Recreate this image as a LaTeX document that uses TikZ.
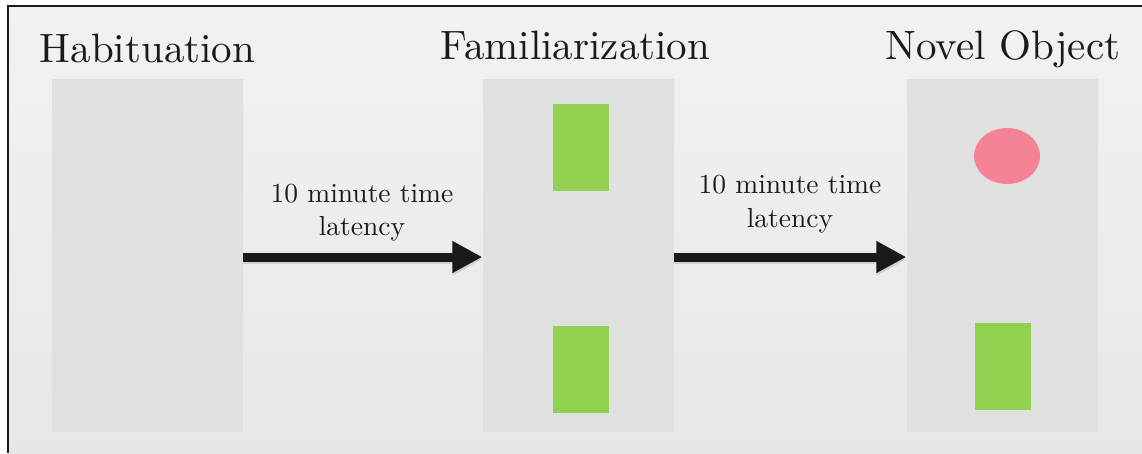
\documentclass[tikz,border=0pt]{standalone}
\usepackage{fontspec}
\newfontfamily\textface{lmroman10-regular.otf}
\usetikzlibrary{arrows.meta, shapes.geometric}
\definecolor{panelgray}{HTML}{E0E0E0}
\definecolor{bgtop}{HTML}{F1F2F4}
\definecolor{bgbottom}{HTML}{E6E7E8}
\definecolor{objgreen}{HTML}{92D050}
\definecolor{objpink}{HTML}{F48396}
\definecolor{ink}{HTML}{1A1A1A}
\tikzset{
  arena/.style={fill=panelgray, draw=none, minimum width=191pt, minimum height=353pt, inner sep=0pt},
  block/.style={fill=objgreen, draw=none, minimum width=56pt, minimum height=87pt, inner sep=0pt},
  ball/.style={ellipse, fill=objpink, draw=none, minimum width=66pt, minimum height=56pt, inner sep=0pt},
  heading/.style={font=\textface\fontsize{41}{48}\selectfont, text=ink, anchor=base, inner sep=0pt},
  delay/.style={font=\textface\fontsize{27.5}{32}\selectfont, text=ink, align=center, inner sep=0pt, anchor=base},
  bigarrow/.style={line width=9pt, draw=ink, -{Triangle[length=30pt 0 0, width=30pt 0 0]}},
  arrowshade/.style={line width=9pt, draw=black!50, opacity=0.25, -{Triangle[length=30pt 0 0, width=30pt 0 0]}}
}
\begin{document}
\begin{tikzpicture}[x=1pt, y=-1pt]
  \useasboundingbox (0,0) rectangle (1142,453);
  % page background and frame
  \fill[white] (0,0) rectangle (1142,453);
  \shade[top color=bgtop, bottom color=bgbottom] (8,6) rectangle (1142,453);
  \draw[ink, line width=2.6pt] (8,453) -- (8,6) -- (1142,6);

  % arenas
  \node[arena] (hab) at (147.5,255.5) {};
  \node[arena] (fam) at (578,255.5) {};
  \node[arena] (nov) at (1002,255.5) {};

  % objects
  \node[block] (famA) at (581,147.5) {};
  \node[block] (famB) at (581,369.5) {};
  \node[ball]  (novA) at (1007,156) {};
  \node[block] (novB) at (1002.5,366.5) {};

  % stage titles
  \node[heading] (t1) at (147.5,62) {Habituation};
  \node[heading] (t2) at (575.5,59) {Familiarization};
  \node[heading] (t3) at (1003,59) {Novel Object};

  % transitions
  \draw[arrowshade] ([yshift=-4pt]hab.east) -- ([yshift=-4pt]fam.west);
  \draw[arrowshade] ([yshift=-4pt]fam.east) -- ([yshift=-4pt]nov.west);
  \draw[bigarrow] ([yshift=-1.5pt]hab.east) -- ([yshift=-1.5pt]fam.west);
  \draw[bigarrow] ([yshift=-1.5pt]fam.east) -- ([yshift=-1.5pt]nov.west);

  \node[delay] (l1a) at (362,202) {10 minute time};
  \node[delay] (l1b) at (362,235) {latency};
  \node[delay] (l2a) at (790,193) {10 minute time};
  \node[delay] (l2b) at (790,227) {latency};
\end{tikzpicture}
\end{document}
